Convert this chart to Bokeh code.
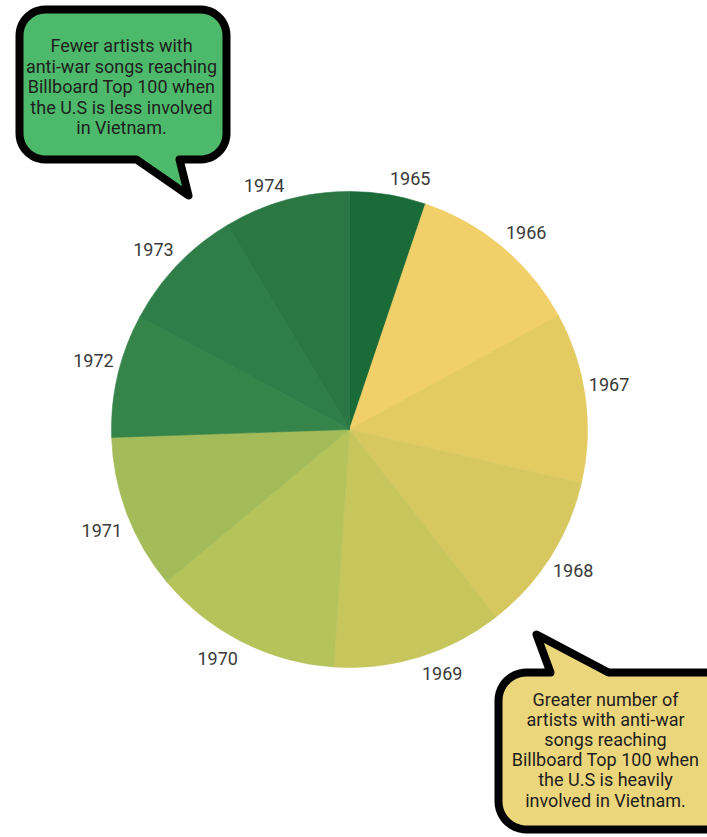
import numpy as np
from bokeh.plotting import figure
from bokeh.models import Range1d, ColumnDataSource
from bokeh.core.properties import value
from bokeh.embed import file_html
from bokeh.resources import INLINE

# ---- data ----
years = ["1965", "1966", "1967", "1968", "1969", "1970", "1971", "1972", "1973", "1974"]
shares = [18.6, 42.8, 41.6, 39.0, 41.8, 46.4, 37.9, 30.1, 30.9, 30.9]
slice_colors = ["#1a6b38", "#f1cf69", "#e3cb62", "#d6c85f", "#c6c65d",
                "#b4c35a", "#a3bb59", "#358449", "#2f7d48", "#2a7743"]

green_note = ["Fewer artists with", "anti-war songs reaching", "Billboard Top 100 when",
              "the U.S is less involved", "in Vietnam."]
yellow_note = ["Greater number of", "artists with anti-war", "songs reaching",
               "Billboard Top 100 when", "the U.S is heavily", "involved in Vietnam."]

# ---- layout (page pixel coordinates, y measured downward) ----
PAGE_H = 837
W, H = 707, 837
# per-label nudges (px, screen x right / y down) applied to the mid-angle label position
label_nudge_x = [18, 7, -2, 1, 15, -12, -1, 1, -5, -15]
label_nudge_y = [10, 5, -9, -1, -8, -6, 7, -9, 2, 10]


def Y(y):
    return PAGE_H - y


p = figure(width=W, height=H, x_range=Range1d(0, W), y_range=Range1d(PAGE_H - H, PAGE_H),
           output_backend="svg", toolbar_location=None, min_border=0,
           outline_line_color=None, background_fill_color="white", border_fill_color="white")
p.axis.visible = False
p.grid.visible = False

# ---- pie ----
cx, cy, R = 349, Y(429), 238
total = float(sum(shares))
cum = np.cumsum([0.0] + shares)
start = np.pi / 2 - 2 * np.pi * cum[:-1] / total
end = np.pi / 2 - 2 * np.pi * cum[1:] / total
mid = (start + end) / 2
LR = 264
lx = cx + LR * np.cos(mid) + np.array(label_nudge_x)
ly = cy + LR * np.sin(mid) - np.array(label_nudge_y)
src = ColumnDataSource(dict(year=years, start=start, end=end, color=slice_colors, lx=lx, ly=ly))
p.wedge(x=cx, y=cy, radius=R, start_angle="start", end_angle="end", direction="clock",
        fill_color="color", line_color="color", line_width=0.6, source=src)
p.text(x="lx", y="ly", text="year", source=src, text_align="center", text_baseline="middle",
       text_font=value("Roboto"), text_font_size="18px", text_color="#3a3a3a")


# ---- speech bubbles ----
def bubble(x0, y0, x1, y1, r, tail, edge):
    xa, xb, tx, ty = tail
    pts = []

    def arc(ccx, ccy, a0, a1):
        for a in np.linspace(np.radians(a0), np.radians(a1), 12):
            pts.append((ccx + r * np.cos(a), ccy + r * np.sin(a)))

    # image coords (y down), clockwise on screen
    if edge == "top":
        pts += [(x0 + r, y0), (xa, y0), (tx, ty), (xb, y0), (x1 - r, y0)]
    else:
        pts += [(x0 + r, y0), (x1 - r, y0)]
    arc(x1 - r, y0 + r, -90, 0)
    arc(x1 - r, y1 - r, 0, 90)
    if edge == "bottom":
        pts += [(xb, y1), (tx, ty), (xa, y1)]
    arc(x0 + r, y1 - r, 90, 180)
    arc(x0 + r, y0 + r, 180, 270)
    xs = [q[0] for q in pts]
    ys = [Y(q[1]) for q in pts]
    return xs, ys


gx, gy = bubble(19, 9, 226, 159, 26, (136, 179, 188, 195), "bottom")
p.patch(gx, gy, fill_color="#4dba6b", line_color="black", line_width=8, line_join="round")
yx, yy = bubble(498, 672, 740, 829, 28, (550, 608, 536, 634), "top")
p.patch(yx, yy, fill_color="#ecd67c", line_color="black", line_width=8, line_join="round")

g_y = [45, 66, 86, 107, 127]
p.text(x=[121] * len(green_note), y=[Y(v) for v in g_y], text=green_note,
       text_align="center", text_baseline="middle", text_font=value("Roboto"),
       text_font_size="18px", text_color="#1e1e1e")
y_y = [699, 719, 739, 759, 779, 800]
p.text(x=[605] * len(yellow_note), y=[Y(v) for v in y_y], text=yellow_note,
       text_align="center", text_baseline="middle", text_font=value("Roboto"),
       text_font_size="18px", text_color="#1e1e1e")

open("out.html", "w").write(file_html(p, INLINE))
